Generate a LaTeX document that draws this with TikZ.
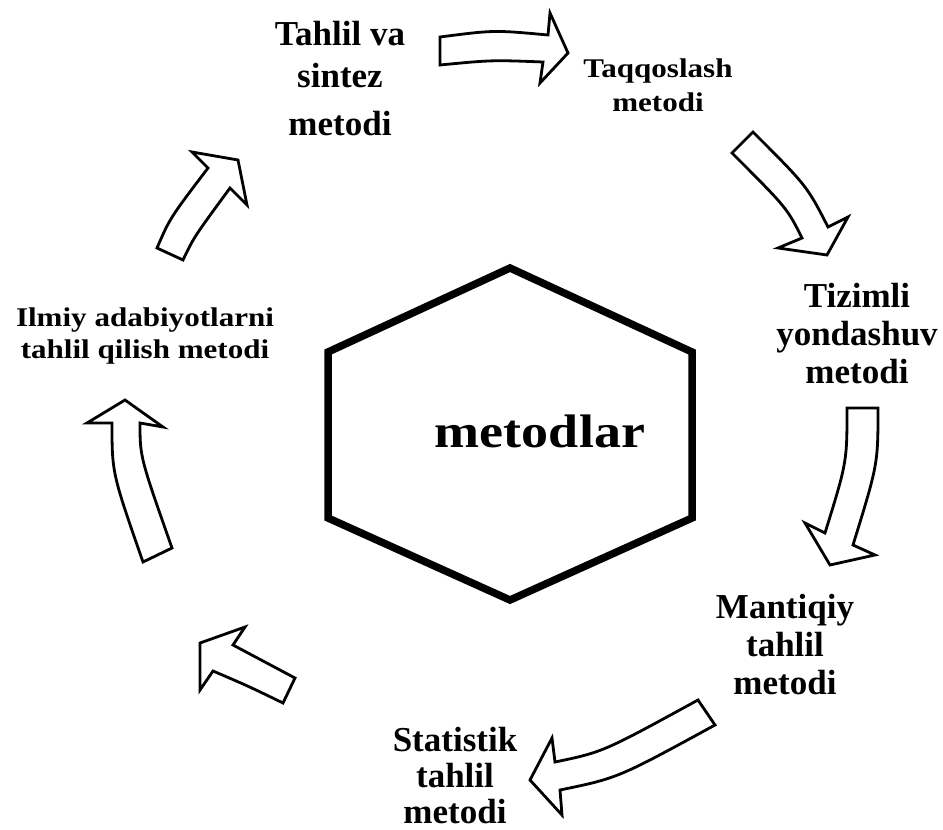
\documentclass[tikz,border=0pt]{standalone}
\usepackage{fontspec}
\setmainfont{Liberation Serif}
\newfontfamily\wideserif[FakeStretch=1.15]{Liberation Serif}
\newfontfamily\hubserif[FakeStretch=1.15]{Liberation Serif}
\definecolor{InkBlack}{RGB}{0,0,0}
\tikzset{
  bigarrow/.style={draw=InkBlack,fill=white,line width=2.8pt,line join=miter},
  hexline/.style={draw=InkBlack,line width=7.5pt,line join=miter},
  biglabel/.style={align=center,inner sep=0pt,text=InkBlack,
    font=\fontsize{35}{38}\selectfont\bfseries},
  smalllabel/.style={align=center,inner sep=0pt,text=InkBlack,
    font=\wideserif\fontsize{27}{32}\selectfont\bfseries},
  hublabel/.style={inner sep=0pt,text=InkBlack,
    font=\hubserif\fontsize{47}{50}\selectfont\bfseries}
}

\begin{document}
\begin{tikzpicture}[x=1pt,y=-1pt]
  \useasboundingbox (0,0) rectangle (943,830);

  % centre
  \draw[hexline] (510,268) -- (692,352) -- (692,518) -- (510,600)
    -- (328,518) -- (328,352) -- cycle;
  \node[hublabel,anchor=base] (hub) at (540,447) {metodlar};

  % methods round the hexagon
  \node[biglabel] (tahlil) at (340,79) {Tahlil va\\[4pt]sintez\\[10pt]metodi};
  \node[smalllabel] (taqqos) at (658,85) {Taqqoslash\\[2pt]metodi};
  \node[biglabel] (tizimli) at (857,334) {Tizimli\\yondashuv\\metodi};
  \node[biglabel] (mantiq) at (785,645) {Mantiqiy\\tahlil\\metodi};
  \node[biglabel] (statist) at (455,776) {Statistik\\[-2pt]tahlil\\[-2pt]metodi};
  \node[smalllabel] (ilmiy) at (145,336) {Ilmiy adabiyotlarni\\tahlil qilish metodi};

  % block arrows, clockwise
  \draw[bigarrow] (440,37) .. controls (494,30) .. (548,35) -- (550,13)
    -- (568,53) -- (540,83) -- (543,62) .. controls (492,60) .. (440,65) -- cycle;
  \draw[bigarrow] (753,132) .. controls (807,186) .. (828,227) -- (848,217)
    -- (827,255) -- (778,248) -- (802,238) .. controls (787,208) .. (732,153) -- cycle;
  \draw[bigarrow] (878,408) .. controls (878,464) .. (853,545) -- (875,555)
    -- (830,565) -- (805,523) -- (825,533) .. controls (847,462) .. (847,408) -- cycle;
  \draw[bigarrow] (715,725) .. controls (618,778) .. (560,790) -- (562,815)
    -- (530,780) -- (552,738) -- (555,762) .. controls (603,752) .. (698,700) -- cycle;
  \draw[bigarrow] (283,703) .. controls (248,686) .. (213,671) -- (200,690)
    -- (200,643) -- (245,627) -- (233,645) .. controls (264,661) .. (295,678) -- cycle;
  \draw[bigarrow] (172,548) .. controls (140,457) .. (140,423) -- (163,427)
    -- (125,400) -- (87,423) -- (112,423) .. controls (112,473) .. (143,562) -- cycle;
  \draw[bigarrow] (157,248) .. controls (170,218) .. (208,168) -- (192,152)
    -- (238,160) -- (247,205) -- (230,188) .. controls (194,237) .. (183,260) -- cycle;
\end{tikzpicture}
\end{document}
